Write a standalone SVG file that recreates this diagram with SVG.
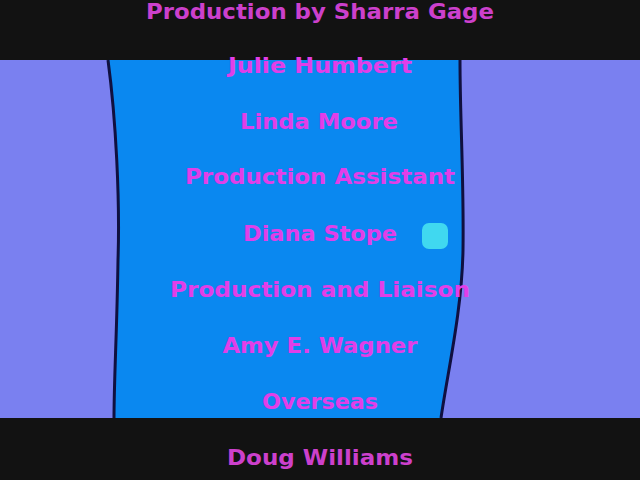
<svg xmlns="http://www.w3.org/2000/svg" width="640" height="480" viewBox="0 0 640 480">
<style>
.t{font-family:"DejaVu Sans","Liberation Sans",sans-serif;font-weight:bold;font-size:22px;text-anchor:middle}
.o{fill:#cc40cc}
.i{fill:#e23ee8}
</style>
<rect x="0" y="0" width="640" height="480" fill="#121212"/>
<rect x="0" y="60" width="640" height="358" fill="#7a80f0"/>
<path d="M108,60 C116,120 120,200 118,260 C117,330 114,380 114,418 L441,418 C448,370 462,310 463,250 C464,180 460,120 460,60 Z" fill="#0a88f0"/>
<path d="M108,60 C116,120 120,200 118,260 C117,330 114,380 114,418" fill="none" stroke="#101040" stroke-width="3"/>
<path d="M460,60 C460,120 464,180 463,250 C462,310 448,370 441,418" fill="none" stroke="#101040" stroke-width="3"/>
<rect x="422" y="223" width="26" height="26" rx="7" fill="#40d8f0"/>
<text class="t o" x="320" y="19" textLength="348" lengthAdjust="spacingAndGlyphs">Production by Sharra Gage</text>
<text class="t i" x="320" y="73" textLength="184" lengthAdjust="spacingAndGlyphs">Julie Humbert</text>
<text class="t i" x="319" y="129" textLength="158" lengthAdjust="spacingAndGlyphs">Linda Moore</text>
<text class="t i" x="320" y="184" textLength="270" lengthAdjust="spacingAndGlyphs">Production Assistant</text>
<text class="t i" x="320" y="241" textLength="154" lengthAdjust="spacingAndGlyphs">Diana Stope</text>
<text class="t i" x="320" y="297" textLength="300" lengthAdjust="spacingAndGlyphs">Production and Liaison</text>
<text class="t i" x="320" y="353" textLength="195" lengthAdjust="spacingAndGlyphs">Amy E. Wagner</text>
<text class="t i" x="320" y="409" textLength="116" lengthAdjust="spacingAndGlyphs">Overseas</text>
<text class="t o" x="320" y="465" textLength="186" lengthAdjust="spacingAndGlyphs">Doug Williams</text>
</svg>
